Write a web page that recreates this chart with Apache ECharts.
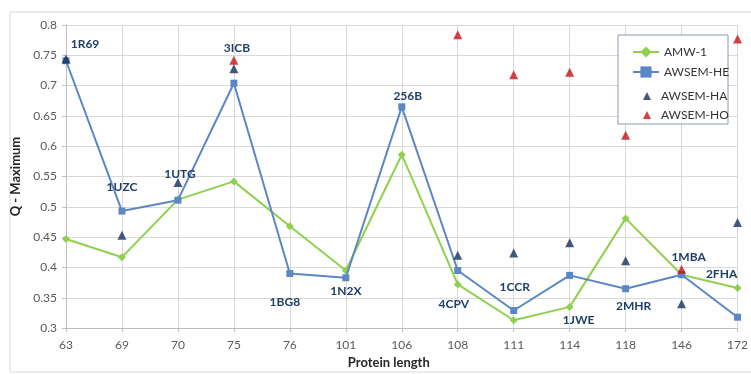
<!DOCTYPE html>
<html>
<head>
<meta charset="utf-8">
<script src="https://cdn.jsdelivr.net/npm/echarts@6/dist/echarts.min.js"></script>
<style>
  html, body { margin: 0; padding: 0; background: #fff; }
  #main { width: 751px; height: 374px; }
</style>
</head>
<body>
<div id="main"></div>
<script>
// protein lengths on the x axis
var lengths = ['63', '69', '70', '75', '76', '101', '106', '108', '111', '114', '118', '146', '172'];
var proteins = ['1R69', '1UZC', '1UTG', '3ICB', '1BG8', '1N2X', '256B', '4CPV', '1CCR', '1JWE', '2MHR', '1MBA', '2FHA'];

var amw1     = [0.447, 0.417, 0.512, 0.542, 0.468, 0.395, 0.586, 0.372, 0.313, 0.335, 0.481, 0.388, 0.366];
var awsemHE  = [0.741, 0.493, 0.511, 0.704, 0.390, 0.383, 0.665, 0.395, 0.329, 0.387, 0.365, 0.388, 0.318];
var awsemHA  = [0.744, 0.453, 0.540, 0.728, null, null, null, 0.420, 0.424, 0.441, 0.411, 0.340, 0.474];
var awsemHO  = [null, null, null, 0.742, null, null, null, 0.784, 0.718, 0.722, 0.618, 0.397, 0.777];

var yTicks = { min: 0.3, max: 0.8, step: 0.05 };

// label offsets (px) relative to the AWSEM-HE point
var labelOffsets = [[19, -17], [0, -24], [2, -26], [3, -35], [-5, 29], [0, 13], [6, -11],
                    [-4, 34], [1, -23], [9, 45], [8, 17], [7, -18], [-16, -43]];

var chart = echarts.init(document.getElementById('main'));

var font = 'Lato, "Open Sans", sans-serif';

var heData = awsemHE.map(function (v, i) {
  return {
    value: v,
    label: {
      show: true,
      formatter: proteins[i],
      position: 'inside',
      offset: labelOffsets[i],
      color: '#1F3F66',
      fontWeight: 'bold',
      fontSize: 12,
      fontFamily: font
    }
  };
});

var option = {
  animation: false,
  backgroundColor: '#fff',
  graphic: [
    {
      type: 'rect',
      shape: { x: 10, y: 12, width: 760, height: 360 },
      style: { fill: 'none', stroke: '#d9d9d9', lineWidth: 1 },
      z: -10
    },
    {
      type: 'rect',
      shape: { x: 618, y: 35, width: 110, height: 89 },
      style: { fill: '#fff', stroke: '#8a9ab0', lineWidth: 1 },
      z: 50
    }
  ],
  grid: { left: 66, top: 25, right: 7, bottom: 38 },
  legend: [
    {
      data: ['AMW-1', 'AWSEM-HE'],
      orient: 'vertical',
      left: 627,
      top: 41,
      itemWidth: 26,
      itemHeight: 14,
      itemGap: 8,
      textStyle: { fontSize: 12, color: '#333', fontFamily: font },
      z: 60
    },
    {
      data: ['AWSEM-HA', 'AWSEM-HO'],
      orient: 'vertical',
      left: 638,
      top: 85,
      itemWidth: 8,
      itemHeight: 8,
      itemGap: 7,
      textStyle: { fontSize: 12, color: '#333', fontFamily: font, padding: [0, 0, 0, 5] },
      z: 60
    }
  ],
  xAxis: {
    type: 'category',
    data: lengths,
    boundaryGap: false,
    name: 'Protein length',
    nameLocation: 'middle',
    nameGap: 22,
    nameTextStyle: { fontSize: 13, fontWeight: 'bold', color: '#262626', fontFamily: font, padding: [0, 26, 0, 0] },
    axisLine: { lineStyle: { color: '#bfbfbf' } },
    axisTick: { show: true, length: 4, lineStyle: { color: '#bfbfbf' } },
    axisLabel: { color: '#595959', fontSize: 12, margin: 11, fontFamily: font },
    splitLine: { show: true, lineStyle: { color: '#d9d9d9' } }
  },
  yAxis: {
    type: 'value',
    min: yTicks.min,
    max: yTicks.max,
    interval: yTicks.step,
    name: 'Q - Maximum',
    nameLocation: 'middle',
    nameGap: 40,
    nameRotate: 90,
    nameTextStyle: { fontSize: 13, fontWeight: 'bold', color: '#262626', fontFamily: font },
    axisLine: { show: true, lineStyle: { color: '#bfbfbf' } },
    axisTick: { show: true, length: 4, lineStyle: { color: '#bfbfbf' } },
    axisLabel: {
      color: '#595959', fontSize: 12, margin: 9, fontFamily: font,
      formatter: function (v) { return String(parseFloat(v.toFixed(2))); }
    },
    splitLine: { show: true, lineStyle: { color: '#d9d9d9' } }
  },
  series: [
    {
      name: 'AMW-1',
      type: 'line',
      data: amw1,
      symbol: 'diamond',
      symbolSize: 8,
      color: '#8FD14F',
      lineStyle: { width: 2, color: '#8FD14F' },
      itemStyle: { color: '#8FD14F' },
      z: 3
    },
    {
      name: 'AWSEM-HE',
      type: 'line',
      data: heData,
      symbol: 'rect',
      symbolSize: 7,
      color: '#5B87C5',
      lineStyle: { width: 2, color: '#5B87C5' },
      itemStyle: { color: '#5B87C5' },
      z: 4
    },
    {
      name: 'AWSEM-HA',
      type: 'scatter',
      data: awsemHA,
      symbol: 'triangle',
      symbolSize: 9,
      itemStyle: { color: '#14305C' },
      z: 5
    },
    {
      name: 'AWSEM-HO',
      type: 'scatter',
      data: awsemHO,
      symbol: 'triangle',
      symbolSize: 9,
      itemStyle: { color: '#C8101A' },
      z: 6
    }
  ]
};

chart.setOption(option);
</script>
</body>
</html>
